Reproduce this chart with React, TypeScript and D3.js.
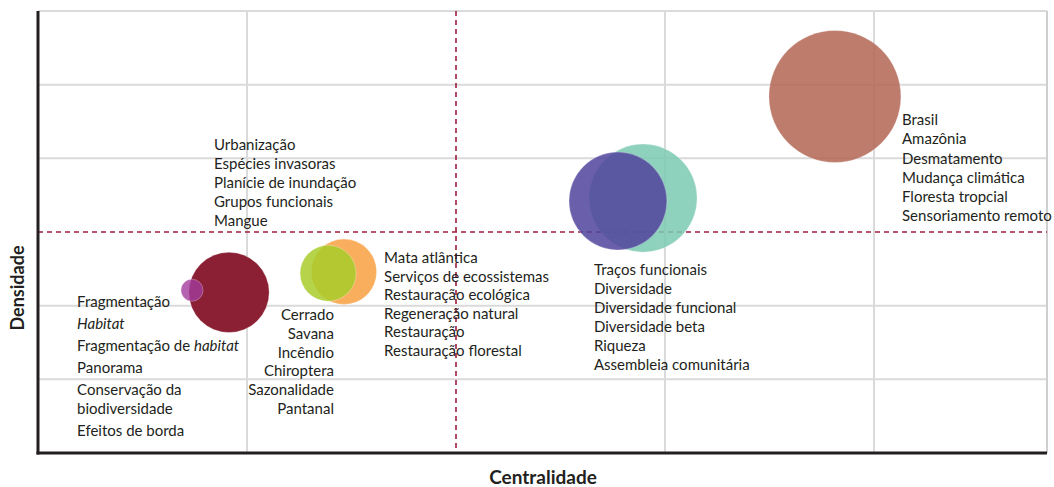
import React from 'react';
import * as d3 from 'd3';

// clusters (bubbles)
const clusterNames = ['Fragmentação (menor)', 'Fragmentação', 'Cerrado', 'Mata atlântica', 'Diversidade (a)', 'Traços funcionais', 'Brasil'];
const centrality = [0.737, 0.914, 1.388, 1.464, 2.775, 2.895, 3.813];
const density = [2.21, 2.18, 2.44, 2.46, 3.42, 3.46, 4.84];
const weight = [2.8, 37, 18, 24.5, 55, 67, 100];
const clusterColors = ['#a23c9c', '#8b1f33', '#a8cd2a', '#f7a041', '#50439c', '#7ac9b0', '#b36553'];
// draw order (index into arrays above)
const drawOrder = [1, 0, 3, 2, 5, 4, 6];

// term labels for each cluster, "*...*" = italic, "\n" = continuation line
const termsFragmentation = ['Fragmentação', '*Habitat*', 'Fragmentação de *habitat*', 'Panorama', 'Conservação da\nbiodiversidade', 'Efeitos de borda'];
const termsUrban = ['Urbanização', 'Espécies invasoras', 'Planície de inundação', 'Grupos funcionais', 'Mangue'];
const termsCerrado = ['Cerrado', 'Savana', 'Incêndio', 'Chiroptera', 'Sazonalidade', 'Pantanal'];
const termsMata = ['Mata atlântica', 'Serviços de ecossistemas', 'Restauração ecológica', 'Regeneração natural', 'Restauração', 'Restauração florestal'];
const termsDiversity = ['Traços funcionais', 'Diversidade', 'Diversidade funcional', 'Diversidade beta', 'Riqueza', 'Assembleia comunitária'];
const termsBrasil = ['Brasil', 'Amazônia', 'Desmatamento', 'Mudança climática', 'Floresta tropcial', 'Sensoriamento remoto'];

// label anchors in data units (centrality, density)
const labelGroups = [
  { terms: termsFragmentation, cx: 0.187, cy: 2.07, anchor: 'start', step: 22, inner: 19 },
  { terms: termsUrban, cx: 0.842, cy: 4.19, anchor: 'start', step: 19, inner: 19 },
  { terms: termsCerrado, cx: 1.416, cy: 1.886, anchor: 'end', step: 18.8, inner: 18.8 },
  { terms: termsMata, cx: 1.656, cy: 2.66, anchor: 'start', step: 18.5, inner: 18.5 },
  { terms: termsDiversity, cx: 2.66, cy: 2.5, anchor: 'start', step: 19, inner: 19 },
  { terms: termsBrasil, cx: 4.134, cy: 4.53, anchor: 'start', step: 19.2, inner: 19.2 },
];

const xGrid = [1, 2, 3, 4];
const yGrid = [1, 2, 3, 4, 5, 6];
const xThreshold = 2;
const yThreshold = 3;

const W = 1054;
const H = 487;
const FONT = 'Lato, "Open Sans", sans-serif';
const INK = '#231f20';

const renderSegments = (line: string) => {
  const parts = line.split('*');
  return parts.map((p, i) => (
    <tspan key={i} fontStyle={i % 2 === 1 ? 'italic' : 'normal'}>{p}</tspan>
  ));
};

export default function App() {
  const margin = { top: 11, right: 7, bottom: 34, left: 38 };
  const x = d3.scaleLinear().domain([0, 1]).range([margin.left, margin.left + 209]);
  const y = d3.scaleLinear().domain([0, 6]).range([H - margin.bottom, margin.top]);
  const r = d3.scaleSqrt().domain([0, 100]).range([0, 66]);
  const x0 = margin.left;
  const x1 = W - margin.right;
  const y0 = H - margin.bottom;
  const y1 = margin.top;

  return (
    <svg width={W} height={H} style={{ position: 'absolute', left: 0, top: 0, background: '#fff' }} fontFamily={FONT}>
      {/* grid */}
      {xGrid.map(v => (
        <line key={'gx' + v} x1={x(v)} x2={x(v)} y1={y1} y2={y0}
          stroke={v === xThreshold ? 'none' : '#dadada'} strokeWidth={2} />
      ))}
      {yGrid.map(v => (
        <line key={'gy' + v} x1={x0} x2={x1} y1={y(v)} y2={y(v)}
          stroke={v === yThreshold ? 'none' : '#dadada'} strokeWidth={2} />
      ))}
      <line x1={x1} x2={x1} y1={y1} y2={y0} stroke="#cfcfcf" strokeWidth={2} />

      {/* thresholds */}
      <line x1={x0} x2={x1} y1={y(yThreshold)} y2={y(yThreshold)}
        stroke="#9e1c3b" strokeWidth={1.6} strokeDasharray="5,4" />
      <line x1={x(xThreshold)} x2={x(xThreshold)} y1={y1} y2={y0}
        stroke="#9e1c3b" strokeWidth={1.6} strokeDasharray="5,4" />

      {/* bubbles */}
      {drawOrder.map(i => (
        <circle key={clusterNames[i]} cx={x(centrality[i])} cy={y(density[i])} r={r(weight[i])}
          fill={clusterColors[i]} fillOpacity={i === 1 ? 1 : i === 0 ? 0.8 : 0.85}
          stroke="#fff" strokeOpacity={0.35} strokeWidth={0.8} />
      ))}

      {/* axes */}
      <line x1={x0} x2={x0} y1={y1} y2={y0 + 1.5} stroke={INK} strokeWidth={3} />
      <line x1={x0 - 1.5} x2={x1} y1={y0} y2={y0} stroke={INK} strokeWidth={3} />

      {/* term labels */}
      {labelGroups.map((g, gi) => {
        let offset = 0;
        const lines: { text: string; dy: number }[] = [];
        g.terms.forEach((t, ti) => {
          const sub = t.split('\n');
          sub.forEach((s, si) => {
            if (ti > 0 || si > 0) offset += si > 0 ? g.inner : g.step;
            lines.push({ text: s, dy: offset });
          });
        });
        return (
          <g key={gi} fontSize={15} fill={INK} textAnchor={g.anchor as any}>
            {lines.map((l, li) => (
              <text key={li} x={x(g.cx)} y={y(g.cy) + l.dy} dominantBaseline="central">
                {renderSegments(l.text)}
              </text>
            ))}
          </g>
        );
      })}

      {/* axis titles */}
      <text x={543} y={484} textAnchor="middle" fontSize={19} fontWeight={700} fill={INK}>Centralidade</text>
      <text transform="translate(24,288) rotate(-90)" textAnchor="middle" fontSize={18} fontWeight={700} fill={INK}>Densidade</text>
    </svg>
  );
}
